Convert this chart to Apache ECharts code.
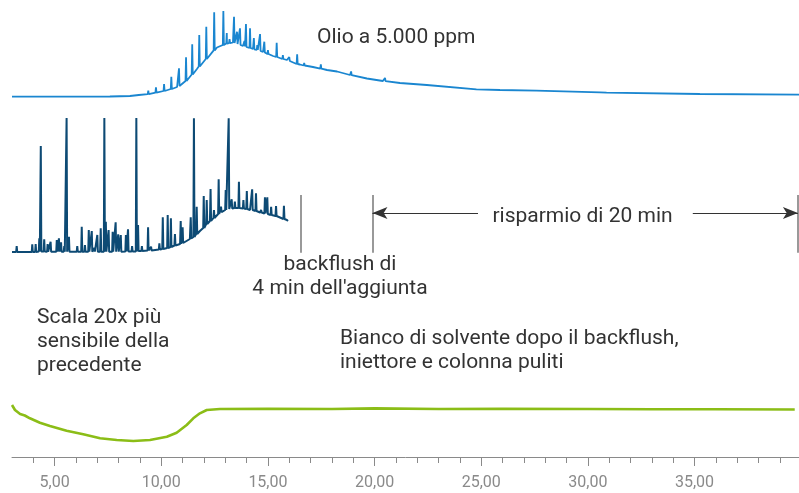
<!DOCTYPE html>
<html>
<head>
<meta charset="utf-8">
<script src="https://cdn.jsdelivr.net/npm/echarts@6/dist/echarts.min.js"></script>
<style>
  html, body { margin: 0; padding: 0; background: #fff; }
  #chart { width: 799px; height: 493px; }
</style>
</head>
<body>
<div id="chart"></div>
<script>
// Retention time axis (min)
const timeMin = 3;
const timeMax = 39.9;
const majorTicks = [5, 10, 15, 20, 25, 30, 35];
const minorTicks = [4, 5, 6, 7, 8, 9, 10, 11, 12, 13, 14, 15, 16, 17, 18, 19, 20, 21,
                    22, 23, 24, 25, 26, 27, 28, 29, 30, 31, 32, 33, 34, 35, 36, 37, 38, 39];

// Oil sample at 5.000 ppm: background hump [time, signal]
const oilHump = [
  [3.00, 0.3], [5.25, 0.3], [7.59, 0.5], [8.53, 1], [9.47, 3], [10.17, 6], [10.74, 10],
  [11.20, 17], [11.67, 28], [12.14, 39], [12.61, 49.5], [13.08, 53.5], [13.36, 54.5],
  [13.83, 51], [14.30, 48], [14.77, 45], [15.24, 41], [15.89, 37], [16.50, 32.5],
  [17.11, 30], [17.77, 27], [18.24, 25.5], [18.85, 22], [19.64, 18.5], [20.39, 16],
  [21.19, 14], [22.45, 12], [25.88, 7], [30.57, 4.7], [35.25, 3], [39.90, 2.3]
];
// Oil sample peaks [time, base, apex]
const oilPeaks = [
  [8.97, 2, 3], [9.39, 2.8, 6.3], [9.75, 4.3, 9.7], [10.13, 6, 13], [10.47, 8, 20.3],
  [10.83, 11, 28.7], [11.16, 16, 39.7], [11.45, 22.5, 52.7], [11.78, 30.5, 62],
  [12.11, 38, 70.3], [12.48, 46.6, 84.7], [12.91, 52, 86], [13.07, 53.5, 64],
  [13.20, 53.8, 58], [13.41, 54, 80.3], [13.55, 53, 65.3], [13.69, 52, 68.7],
  [13.90, 50.5, 56], [13.97, 50, 73], [14.16, 49, 68.7], [14.34, 47.7, 59],
  [14.50, 47, 52], [14.63, 46, 63], [14.83, 44.5, 55.3], [15.00, 43, 47],
  [15.41, 40, 54.3], [15.70, 38, 42], [16.00, 36, 40], [16.37, 33, 42.7],
  [16.70, 31.5, 34], [17.48, 28.3, 32.7], [18.90, 21.8, 25.5], [20.49, 15.8, 19],
  [22.50, 12, 13.7], [24.80, 7.7, 9.3], [27.61, 6.3, 7.7], [30.90, 4.3, 5]
];

// Run with 4 min backflush: background [time, signal]
const backflushHump = [
  [3.00, 0], [5.25, 0.2], [7.13, 0.3], [9.00, 1.3], [9.94, 3], [10.55, 6], [10.88, 8],
  [11.34, 13], [11.81, 21], [12.28, 31], [12.75, 39.5], [13.22, 43.5], [13.69, 44],
  [14.16, 42], [14.63, 39.5], [15.24, 37], [15.89, 32], [15.94, 31]
];
// Run with 4 min backflush: peaks [time, base, apex]
const backflushPeaks = [
  [3.22, 0, 6], [3.95, 0, 7.7], [4.11, 0, 8], [4.28, 0.5, 13.7], [4.35, 0.5, 106],
  [4.51, 0.5, 12.7], [4.67, 0.3, 8], [4.81, 0.3, 10.3], [5.10, 0.3, 12], [5.20, 0.3, 13.7],
  [5.30, 0.3, 9.7], [5.45, 0.3, 6], [5.56, 0.3, 134], [5.67, 0.3, 15.3], [6.06, 0.3, 6],
  [6.27, 0.3, 25.3], [6.42, 0.3, 7], [6.60, 0.3, 22], [6.74, 0.3, 21], [6.86, 0.3, 4],
  [7.00, 0.3, 17], [7.16, 0.3, 23.7], [7.33, 0.3, 134], [7.40, 0.3, 30.3], [7.53, 0.3, 22],
  [7.72, 0.3, 20.3], [7.86, 0.3, 29.7], [7.98, 0.3, 17.7], [8.10, 0.3, 17], [8.34, 0.5, 17],
  [8.44, 0.5, 22.7], [8.63, 0.5, 6], [8.83, 0.5, 134], [8.91, 1, 27], [9.09, 1, 6],
  [9.38, 1.5, 24.7], [9.52, 1.5, 5.3], [9.91, 2.5, 8.7], [10.07, 3, 34.7], [10.30, 4, 37],
  [10.45, 5, 33.7], [10.64, 6.5, 18], [10.91, 8, 31], [11.00, 9, 24.7], [11.38, 13.5, 34.7],
  [11.53, 15, 133.7], [11.66, 18, 45.3], [11.99, 24, 56], [12.13, 28, 52], [12.31, 31, 63],
  [12.47, 34, 42], [12.69, 38, 72.7], [12.80, 39.8, 45.3], [13.02, 42, 62], [13.16, 43, 133.7],
  [13.30, 43.5, 52.7], [13.45, 44, 50.3], [13.64, 44, 70.3], [13.85, 43.5, 52],
  [14.01, 43, 61], [14.26, 42, 62.7], [14.44, 41, 58.7], [14.68, 39.5, 42], [14.86, 38.5, 54.7],
  [14.97, 38, 54.7], [15.15, 37, 45.3], [15.38, 36, 46], [15.75, 33, 46.3]
];

// Solvent blank after backflush [time, signal]
const blankTrace = [
  [3.00, 36], [3.14, 31], [3.38, 27], [3.60, 25.5], [3.84, 22.7], [4.31, 18.3], [4.78, 15],
  [5.56, 10.3], [6.34, 6.7], [7.13, 2.7], [7.91, 1], [8.69, 0], [9.47, 1], [10.26, 4.3],
  [10.72, 8.3], [11.19, 16], [11.50, 22.7], [11.81, 27.7], [12.13, 31], [12.75, 32],
  [15.00, 32.3], [18.00, 32], [20.00, 32.6], [23.00, 32], [26.00, 32.3], [30.00, 32],
  [33.00, 31.8], [36.00, 31.7], [39.70, 31.5]
];

// Backflush markers (min) and the 20 min saving span
const backflushStart = 16.55;
const runEndWithBackflush = 19.9;
const runEndWithout = 39.85;
const savingArrowLeftEnd = 24.85;
const savingArrowRightStart = 34.92;

const peakHalfWidth = 0.025;

function withPeaks(trace, peaks) {
  const pts = trace.map(p => p.slice());
  peaks.forEach(([t, base, apex]) => {
    pts.push([t - peakHalfWidth, base], [t, apex], [t + peakHalfWidth, base]);
  });
  return pts.sort((a, b) => a[0] - b[0]);
}

const FONT = 'Roboto, "Noto Sans", sans-serif';
const chart = echarts.init(document.getElementById('chart'), null, { renderer: 'canvas' });

const hiddenX = idx => ({
  type: 'value', gridIndex: idx, min: timeMin, max: timeMax, show: false
});

chart.setOption({
  animation: false,
  backgroundColor: '#fff',
  textStyle: { fontFamily: FONT },
  grid: [
    { left: 12, right: 0, top: 7, height: 90, outerBoundsMode: 'none' },
    { left: 12, right: 0, top: 112, height: 141, outerBoundsMode: 'none' },
    { left: 12, right: 0, top: 401, height: 56, outerBoundsMode: 'none' }
  ],
  xAxis: [
    hiddenX(0),
    hiddenX(1),
    {
      type: 'value', gridIndex: 2, min: timeMin, max: timeMax, position: 'bottom',
      axisLine: { show: true, onZero: false, lineStyle: { color: '#8a8a8a', width: 1 } },
      axisTick: { show: true, customValues: minorTicks, length: 6, lineStyle: { color: '#8a8a8a' } },
      axisLabel: { show: false },
      splitLine: { show: false }
    },
    {
      type: 'value', gridIndex: 2, min: timeMin, max: timeMax, position: 'bottom', offset: 0,
      axisLine: { show: false, onZero: false },
      axisTick: { show: true, customValues: majorTicks, length: 9, lineStyle: { color: '#8a8a8a' } },
      axisLabel: {
        show: true, customValues: majorTicks, margin: 18,
        color: '#8a8a8a', fontSize: 16, fontFamily: FONT,
        formatter: v => v.toFixed(2).replace('.', ',')
      },
      splitLine: { show: false }
    }
  ],
  yAxis: [
    { type: 'value', gridIndex: 0, min: 0, max: 90, show: false },
    { type: 'value', gridIndex: 1, min: -1, max: 140, show: false },
    { type: 'value', gridIndex: 2, min: -16, max: 40, show: false }
  ],
  series: [
    {
      name: 'Olio a 5.000 ppm', type: 'line', xAxisIndex: 0, yAxisIndex: 0,
      data: withPeaks(oilHump, oilPeaks), symbol: 'none', silent: true,
      lineStyle: { color: '#1a86d0', width: 1.8 }
    },
    {
      name: 'backflush', type: 'line', xAxisIndex: 1, yAxisIndex: 1,
      data: withPeaks(backflushHump, backflushPeaks), symbol: 'none', silent: true,
      lineStyle: { color: '#0d4a74', width: 2 },
      markLine: {
        silent: true, symbol: ['none', 'none'], animation: false,
        label: { show: false },
        emphasis: { disabled: true },
        data: [
          [{ coord: [backflushStart, -0.7], lineStyle: { color: '#777', width: 1.5, type: 'solid' } },
           { coord: [backflushStart, 57] }],
          [{ coord: [runEndWithBackflush, -0.7], lineStyle: { color: '#777', width: 1.5, type: 'solid' } },
           { coord: [runEndWithBackflush, 57] }],
          [{ coord: [runEndWithout, -0.7], lineStyle: { color: '#777', width: 1.5, type: 'solid' } },
           { coord: [runEndWithout, 57] }],
          [{ coord: [runEndWithBackflush, 39], symbol: 'arrow', symbolSize: [9, 15],
             lineStyle: { color: '#333', width: 1, type: 'solid' }, itemStyle: { color: '#333' } },
           { coord: [savingArrowLeftEnd, 39], symbol: 'none' }],
          [{ coord: [savingArrowRightStart, 39], symbol: 'none',
             lineStyle: { color: '#333', width: 1, type: 'solid' }, itemStyle: { color: '#333' } },
           { coord: [runEndWithout, 39], symbol: 'arrow', symbolSize: [9, 15] }]
        ]
      }
    },
    {
      name: 'Bianco', type: 'line', xAxisIndex: 2, yAxisIndex: 2,
      data: blankTrace, symbol: 'none', silent: true,
      lineStyle: { color: '#8bbd17', width: 2.6 }
    }
  ],
  graphic: [
    { type: 'text', x: 317, y: 38, silent: true,
      style: { text: 'Olio a 5.000 ppm', font: '21px ' + FONT, fill: '#333',
               textAlign: 'left', textVerticalAlign: 'middle' } },
    { type: 'text', x: 582.5, y: 216.5, silent: true,
      style: { text: 'risparmio di 20 min', font: '21px ' + FONT, fill: '#333',
               textAlign: 'center', textVerticalAlign: 'middle' } },
    { type: 'text', x: 340, y: 253, silent: true,
      style: { text: "backflush di\n4 min dell'aggiunta", font: '21px ' + FONT, fill: '#333',
               lineHeight: 24, textAlign: 'center', textVerticalAlign: 'top' } },
    { type: 'text', x: 37, y: 306, silent: true,
      style: { text: 'Scala 20x più\nsensibile della\nprecedente', font: '21px ' + FONT, fill: '#333',
               lineHeight: 24, textAlign: 'left', textVerticalAlign: 'top' } },
    { type: 'text', x: 340, y: 327, silent: true,
      style: { text: 'Bianco di solvente dopo il backflush,\niniettore e colonna puliti',
               font: '21px ' + FONT, fill: '#333',
               lineHeight: 24, textAlign: 'left', textVerticalAlign: 'top' } }
  ]
});
</script>
</body>
</html>
